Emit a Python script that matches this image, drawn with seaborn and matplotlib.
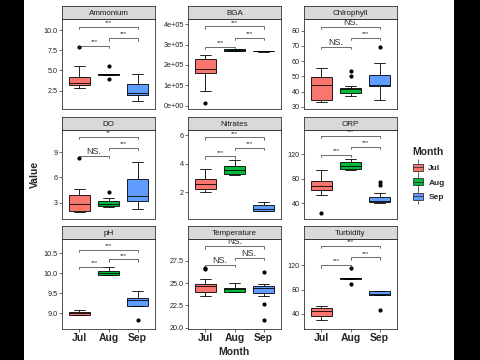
import pandas as pd
import matplotlib
matplotlib.use("Agg")
import matplotlib.pyplot as plt
import seaborn as sns
from matplotlib.patches import Patch, Rectangle
from matplotlib.lines import Line2D
from matplotlib.legend_handler import HandlerTuple

# Month groups and ggplot-like colours
months = ["Jul", "Aug", "Sep"]
colors = ["#F8766D", "#00BA38", "#619CFF"]
variables = ["Ammonium", "BGA", "Chlrophyll", "DO", "Nitrates", "ORP",
             "pH", "Temperature", "Turbidity"]

# Box summaries: [whisker low, Q1, median, Q3, whisker high] per month
ammonium_box = [[2.8, 3.17, 3.4, 4.17, 5.6], [4.42, 4.45, 4.5, 4.55, 4.58], [1.15, 1.9, 2.2, 3.25, 4.6]]
bga_box = [[74000, 161000, 180000, 229000, 249000], [266000, 267000, 272000, 279000, 280000],
           [265000, 266000, 267000, 268000, 269000]]
chloro_box = [[33, 34.7, 44, 49.5, 55.5], [37, 39, 41.5, 42.5, 43.5], [34.6, 43.4, 44.5, 51.1, 58.5]]
do_box = [[1.9, 2.05, 2.9, 3.95, 4.65], [2.5, 2.65, 2.9, 3.2, 3.5], [2.2, 3.15, 3.75, 5.8, 7.8]]
nitrates_box = [[2.0, 2.25, 2.58, 2.96, 3.65], [3.23, 3.3, 3.58, 3.86, 4.28], [0.7, 0.7, 0.8, 1.1, 1.3]]
orp_box = [[53.5, 60.8, 67.5, 76, 93.5], [93.5, 96.3, 101.2, 106.6, 112], [40, 41.6, 44, 51, 56]]
ph_box = [[8.96, 8.96, 9.0, 9.04, 9.08], [9.96, 9.96, 10.0, 10.05, 10.15], [9.18, 9.18, 9.33, 9.39, 9.55]]
temp_box = [[23.5, 24.05, 24.7, 24.9, 25.45], [24.0, 24.05, 24.35, 24.45, 25.0], [23.6, 23.9, 24.4, 24.65, 24.9]]
turb_box = [[31, 37.3, 44.9, 49.4, 53], [97, 97.3, 98.2, 99, 99.3], [70.5, 70.5, 72, 77.6, 77.6]]

# Outlier points per month
ammonium_out = [[7.9], [5.6, 3.9], []]
bga_out = [[15000], [], []]
chloro_out = [[], [50, 53.3], [69]]
do_out = [[8.35], [4.3], []]
nitrates_out = [[], [], []]
orp_out = [[24], [], [75, 70]]
ph_out = [[], [], [8.84]]
temp_out = [[26.55, 26.7], [], [26.2, 22.7, 20.9]]
turb_out = [[], [115.6, 89], [46.6]]

# Comparison brackets: heights for Jul-Aug, Jul-Sep, Aug-Sep and their labels
ammonium_br = [8.1, 10.4, 9.0]
bga_br = [290000, 389000, 333000]
chloro_br = [69.5, 82.5, 75.2]
do_br = [8.6, 10.8, 9.5]
nitrates_br = [4.5, 5.83, 5.1]
orp_br = [118.4, 150, 132]
ph_br = [10.16, 10.58, 10.35]
temp_br = [27.0, 29.1, 27.8]
turb_br = [119.5, 151.5, 132.5]
stars = ["***", "***", "***"]
chloro_lab = ["NS.", "NS.", "***"]
do_lab = ["NS.", "**", "***"]
temp_lab = ["NS.", "NS.", "NS."]

# Y axis ticks and ranges per panel
ammonium_ticks = ["2.5", "5.0", "7.5", "10.0"]
bga_ticks = ["0e+00", "1e+05", "2e+05", "3e+05", "4e+05"]
chloro_ticks = ["30", "40", "50", "60", "70", "80"]
do_ticks = ["3", "6", "9"]
nitrates_ticks = ["2", "4", "6"]
orp_ticks = ["40", "80", "120"]
ph_ticks = ["9.0", "9.5", "10.0", "10.5"]
temp_ticks = ["20.0", "22.5", "25.0", "27.5"]
turb_ticks = ["40", "80", "120"]
ylims = [(0.2, 11.4), (-16000, 425000), (28.5, 87.7), (1.06, 11.65), (0.13, 6.35),
         (14.5, 159), (8.61, 10.86), (19.85, 29.93), (15.5, 162.5)]

boxes = [ammonium_box, bga_box, chloro_box, do_box, nitrates_box, orp_box, ph_box, temp_box, turb_box]
outs = [ammonium_out, bga_out, chloro_out, do_out, nitrates_out, orp_out, ph_out, temp_out, turb_out]
brackets = [ammonium_br, bga_br, chloro_br, do_br, nitrates_br, orp_br, ph_br, temp_br, turb_br]
labels = [stars, stars, chloro_lab, do_lab, stars, stars, stars, temp_lab, stars]
ticks = [ammonium_ticks, bga_ticks, chloro_ticks, do_ticks, nitrates_ticks, orp_ticks,
         ph_ticks, temp_ticks, turb_ticks]


def expand(stats, extra):
    # sample whose quartiles and whisker ends match the read summary
    lo, q1, med, q3, hi = stats
    return [lo] + [q1] * 4 + [med] * 4 + [q3] * 4 + [hi] + list(extra)


rows_list = []
for var, box, out in zip(variables, boxes, outs):
    for m, st, ex in zip(months, box, out):
        for v in expand(st, ex):
            rows_list.append({"Variable": var, "Month": m, "Value": v})
df = pd.DataFrame(rows_list)

sns.set_style("white")
plt.rcParams["font.family"] = ["Liberation Sans", "DejaVu Sans"]

W, H = 480, 360
fig = plt.figure(figsize=(W / 100, H / 100), dpi=100)
fig.patch.set_facecolor("black")
fig.patches.append(Rectangle((24 / W, 0), 430 / W, 1, transform=fig.transFigure,
                             facecolor="white", edgecolor="none", zorder=-10))


def px_axes(x0, y0, x1, y1):
    return fig.add_axes([x0 / W, 1 - y1 / H, (x1 - x0) / W, (y1 - y0) / H])


cols = [(62, 155), (188, 281), (304, 397)]
rows = [(19, 109), (130, 219), (239, 329)]
edge = "#333333"
pairs = [(0, 1), (0, 2), (1, 2)]

for i, var in enumerate(variables):
    r, c = divmod(i, 3)
    x0, x1 = cols[c]
    y0, y1 = rows[r]
    ax = px_axes(x0, y0, x1, y1)
    sub = df[df["Variable"] == var]
    sns.boxplot(data=sub, x="Month", y="Value", hue="Month", order=months, hue_order=months,
                palette=colors, saturation=1, width=0.75, linecolor="black", linewidth=0.6,
                legend=False, ax=ax,
                flierprops=dict(marker="o", markerfacecolor="black", markeredgecolor="black",
                                markersize=2))
    lo, hi = ylims[i]
    ax.set_xlim(-0.6, 2.6)
    ax.set_ylim(lo, hi)
    tk = ticks[i]
    ax.set_yticks([float(t) for t in tk])
    ax.set_yticklabels(tk)
    ax.set_xlabel("")
    ax.set_ylabel("")
    for s in ax.spines.values():
        s.set_color(edge)
        s.set_linewidth(0.6)
    ax.tick_params(axis="y", length=2, width=0.5, color=edge, labelsize=5.2, pad=1,
                   labelcolor="#222222", left=True)
    if r == 2:
        ax.tick_params(axis="x", length=2, width=0.5, color=edge, labelsize=7.5, pad=1,
                       bottom=True)
        for t in ax.get_xticklabels():
            t.set_fontweight("bold")
    else:
        ax.tick_params(axis="x", bottom=False, labelbottom=False)

    # significance brackets
    tick_len = (hi - lo) * 0.025
    for (a, b), yb, lab in zip(pairs, brackets[i], labels[i]):
        ax.plot([a, a, b, b], [yb - tick_len, yb, yb, yb - tick_len], color=edge, lw=0.5)
        big = lab.startswith("NS")
        ax.text((a + b) / 2, yb + (hi - lo) * (0.0 if big else 0.02), lab, ha="center",
                va="bottom", fontsize=6.5 if big else 4.5, color="#333333", clip_on=True)

    # strip header
    sax = px_axes(x0, y0 - 13, x1, y0)
    sax.set_facecolor("#D9D9D9")
    sax.set_xticks([])
    sax.set_yticks([])
    for s in sax.spines.values():
        s.set_color(edge)
        s.set_linewidth(0.6)
    sax.text(0.5, 0.45, var, ha="center", va="center", fontsize=5.8, color="#1A1A1A",
             transform=sax.transAxes)

fig.text(234 / W, 1 - 352 / H, "Month", ha="center", va="center", fontsize=7.5, fontweight="bold")
fig.text(35 / W, 1 - 174 / H, "Value", ha="center", va="center", rotation=90, fontsize=7.5,
         fontweight="bold")

# legend keys drawn like ggplot boxplot keys: whisker, box, median
handles = []
for col in colors:
    whisk = Line2D([], [], marker="|", markersize=11, markeredgewidth=0.6, color="#555555",
                   linestyle="None")
    box = Patch(facecolor=col, edgecolor="#333333", linewidth=0.6)
    med = Line2D([], [], color="#333333", linewidth=0.6)
    handles.append((whisk, box, med))
leg = fig.legend(handles=handles, labels=months, title="Month", loc="upper left",
                 bbox_to_anchor=(405 / W, 1 - 140 / H), frameon=False, fontsize=6,
                 title_fontsize=7.5, handlelength=1.2, handleheight=0.9, handletextpad=0.7,
                 labelspacing=0.75, numpoints=1,
                 handler_map={tuple: HandlerTuple(ndivide=1, pad=0)})
leg.get_title().set_fontweight("bold")
leg._legend_box.align = "left"
for t in leg.get_texts():
    t.set_fontweight("bold")

fig.savefig("out.png", dpi=100, facecolor=fig.get_facecolor())
